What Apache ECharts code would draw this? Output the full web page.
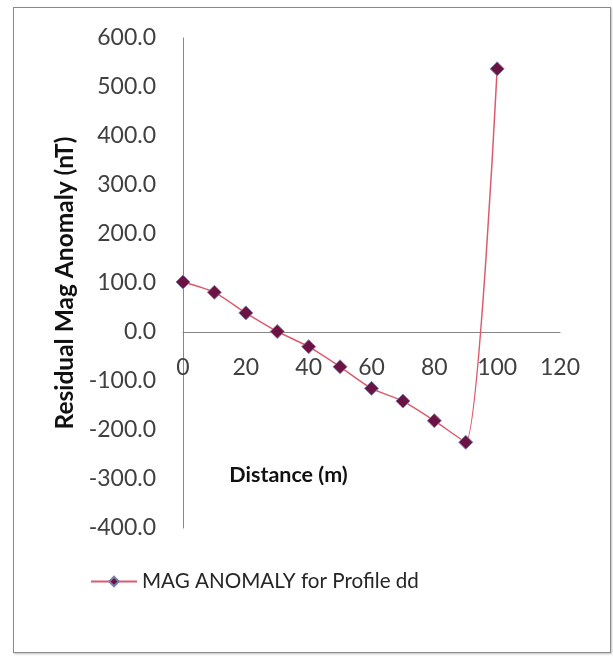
<!DOCTYPE html>
<html>
<head>
<meta charset="utf-8">
<title>MAG ANOMALY for Profile dd</title>
<script src="https://cdn.jsdelivr.net/npm/echarts@6/dist/echarts.min.js"></script>
<style>
  html, body { margin: 0; padding: 0; background: #ffffff; }
  #frame {
    position: absolute; left: 13px; top: 7px; width: 596px; height: 644px;
    border: 1px solid #8a8a8a; box-shadow: 1px 1px 2px rgba(0,0,0,0.25);
    background: #ffffff;
  }
  #chart { position: absolute; left: 0; top: 0; width: 613px; height: 656px; }
</style>
</head>
<body>
<div id="frame"></div>
<div id="chart"></div>
<script>
// Profile dd: distance along the line (m) and residual magnetic anomaly (nT)
const distance = [0, 10, 20, 30, 40, 50, 60, 70, 80, 90, 100];
const anomaly = [102, 81, 39, 1, -30, -71, -115, -141, -181, -225, 537];
const seriesName = 'MAG ANOMALY for Profile dd';
const xTitle = 'Distance (m)';
const yTitle = 'Residual Mag Anomaly (nT)';

const points = distance.map((d, i) => [d, anomaly[i]]);
const font = 'Lato, "Open Sans", "DejaVu Sans", sans-serif';
const axisGray = '#868686';

// plot box
const gridTop = 38, gridBottom = 128;
const plotHeight = 656 - gridTop - gridBottom;
const yMin = -400, yMax = 600;
// horizontal axis sits on the zero line
const xAxisOffset = -plotHeight * (0 - yMin) / (yMax - yMin);

const chart = echarts.init(document.getElementById('chart'), null, { renderer: 'canvas' });
chart.setOption({
  backgroundColor: 'transparent',
  animation: false,
  textStyle: { fontFamily: font },
  grid: { left: 183, right: 53, top: gridTop, bottom: gridBottom, containLabel: false, outerBoundsMode: 'none' },
  legend: {
    left: 85, top: 566,
    itemWidth: 46, itemHeight: 12, itemGap: 4,
    data: [seriesName],
    textStyle: { fontFamily: font, fontSize: 20.6, color: '#262626' }
  },
  xAxis: {
    type: 'value', min: 0, max: 120, interval: 20,
    offset: xAxisOffset,
    name: xTitle, nameLocation: 'middle', nameGap: 132,
    nameTextStyle: { fontFamily: font, fontSize: 21.5, fontWeight: 'bold', color: '#111', padding: [0, 166, 0, 0] },
    axisLine: { onZero: false, lineStyle: { color: axisGray, width: 1 } },
    axisTick: { show: false },
    splitLine: { show: false },
    axisLabel: { margin: 24, fontFamily: font, fontSize: 23, color: '#404040' }
  },
  yAxis: {
    type: 'value', min: yMin, max: yMax, interval: 100,
    name: yTitle, nameLocation: 'middle', nameGap: 102,
    nameTextStyle: { fontFamily: font, fontSize: 24.5, fontWeight: 'bold', color: '#111' },
    axisLine: { show: true, lineStyle: { color: axisGray, width: 1 } },
    axisTick: { show: false },
    splitLine: { show: false },
    axisLabel: {
      margin: 27, fontFamily: font, fontSize: 23, color: '#404040',
      formatter: v => v.toFixed(1)
    }
  },
  series: [{
    name: seriesName,
    type: 'line',
    data: points,
    smooth: 0.22,
    symbol: 'diamond',
    symbolSize: 14,
    itemStyle: { color: '#6b1444', borderColor: '#7d7fa8', borderWidth: 1 },
    lineStyle: { color: '#dc5a6c', width: 1.5 }
  }]
});
</script>
</body>
</html>
